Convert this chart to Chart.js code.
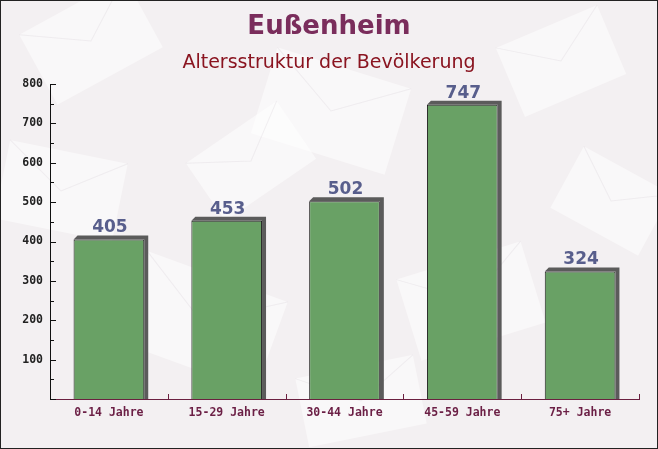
<!DOCTYPE html>
<html>
<head>
    <title>Eußenheim - Altersstruktur</title>
    <style>
        html, body {
            margin: 0;
            padding: 0;
            background: #f4f1f3;
        }
        #wrap {
            width: 656px;
            height: 447px;
            border: 1px solid #222;
        }
        #myChart {
            display: block;
        }
    </style>
    <script src="https://cdn.jsdelivr.net/npm/chart.js"></script>
</head>
<body>
<div id="wrap"><canvas id="myChart" width="656" height="447"></canvas></div>
<script>
    // Altersgruppen und Einwohnerzahlen
    const categories = ['0-14 Jahre', '15-29 Jahre', '30-44 Jahre', '45-59 Jahre', '75+ Jahre'];
    const values = [405, 453, 502, 747, 324];
    const yTicks = [0, 100, 200, 300, 400, 500, 600, 700, 800];

    // Hintergrund mit blassen "Briefumschlägen"
    const bgPlugin = {
        id: 'bg',
        beforeDraw(chart) {
            const c = chart.ctx;
            c.save();
            c.fillStyle = '#f3f0f2';
            c.fillRect(0, 0, chart.width, chart.height);
            const env = [
                [90, 40, 120, 80, -0.5], [330, 110, 140, 90, 0.3], [560, 60, 110, 75, -0.4],
                [200, 320, 150, 95, 0.35], [470, 300, 130, 85, -0.3], [60, 190, 120, 80, 0.2],
                [610, 200, 100, 70, 0.5], [360, 400, 120, 70, -0.2], [250, 160, 110, 70, -0.6]
            ];
            env.forEach(e => {
                c.save();
                c.translate(e[0], e[1]);
                c.rotate(e[4]);
                c.fillStyle = 'rgba(255,255,255,0.5)';
                c.fillRect(-e[2] / 2, -e[3] / 2, e[2], e[3]);
                c.strokeStyle = 'rgba(200,190,200,0.2)';
                c.beginPath();
                c.moveTo(-e[2] / 2, -e[3] / 2);
                c.lineTo(0, 0);
                c.lineTo(e[2] / 2, -e[3] / 2);
                c.stroke();
                c.restore();
            });
            c.restore();
        }
    };

    // 3D-Schatten hinter den Balken und Werte darüber
    const shadowPlugin = {
        id: 'shadow3d',
        beforeDatasetsDraw(chart) {
            const c = chart.ctx;
            const d = 4;
            const base = chart.scales.y.getPixelForValue(0);
            c.save();
            c.fillStyle = '#5b5b5b';
            chart.getDatasetMeta(0).data.forEach(bar => {
                const l = bar.x - bar.width / 2, r = bar.x + bar.width / 2, t = bar.y;
                c.beginPath();
                c.moveTo(l, t);
                c.lineTo(l + d, t - d);
                c.lineTo(r + d, t - d);
                c.lineTo(r + d, base);
                c.lineTo(r, base);
                c.lineTo(r, t);
                c.closePath();
                c.fill();
            });
            c.restore();
        },
        afterDatasetsDraw(chart) {
            const c = chart.ctx;
            c.save();
            c.font = 'bold 17px "DejaVu Sans"';
            c.fillStyle = '#585e8c';
            c.textAlign = 'center';
            c.textBaseline = 'bottom';
            chart.getDatasetMeta(0).data.forEach((bar, i) => {
                c.fillText(values[i], bar.x + 1, bar.y - 3);
            });
            c.restore();
        }
    };

    const ctx = document.getElementById('myChart').getContext('2d');
    new Chart(ctx, {
        type: 'bar',
        data: {
            labels: categories,
            datasets: [{
                data: values,
                backgroundColor: '#69a165',
                borderColor: '#222',
                borderWidth: 1,
                borderSkipped: 'bottom',
                categoryPercentage: 0.6,
                barPercentage: 1.0
            }]
        },
        options: {
            responsive: false,
            animation: false,
            devicePixelRatio: 1,
            layout: { padding: 0 },
            scales: {
                y: {
                    min: 0,
                    max: 800,
                    afterBuildTicks(scale) {
                        scale.ticks = yTicks.map(v => ({ value: v }));
                    },
                    afterFit(scale) { scale.width = 49; },
                    border: { display: true, color: '#111', width: 1 },
                    grid: { display: false, drawTicks: false },
                    ticks: {
                        color: '#222',
                        padding: 7,
                        font: { family: '"DejaVu Sans Mono"', size: 11.5, weight: 'bold' },
                        callback: v => v === 0 ? '' : v
                    }
                },
                // leerer Rand rechts, damit der Titel über die volle Breite zentriert bleibt
                yRight: {
                    position: 'right',
                    display: true,
                    min: 0,
                    max: 800,
                    afterFit(scale) { scale.width = 18; },
                    border: { display: false },
                    grid: { display: false },
                    ticks: { display: false }
                },
                x: {
                    afterFit(scale) { scale.height = 49; },
                    border: { display: true, color: '#6b2040', width: 1 },
                    grid: { display: false },
                    ticks: {
                        color: '#6b1f45',
                        padding: -1,
                        font: { family: '"DejaVu Sans Mono"', size: 11.5, weight: 'bold' }
                    }
                }
            },
            plugins: {
                legend: { display: false },
                tooltip: { enabled: false },
                title: {
                    display: true,
                    text: 'Eußenheim',
                    color: '#7a2d5c',
                    font: { family: '"DejaVu Sans"', size: 26, weight: 'bold' },
                    padding: { top: 11, bottom: 4 }
                },
                subtitle: {
                    display: true,
                    text: 'Altersstruktur der Bevölkerung',
                    color: '#8a1420',
                    font: { family: '"DejaVu Sans"', size: 19 },
                    padding: { top: 4, bottom: 10 }
                }
            }
        },
        plugins: [bgPlugin, shadowPlugin, {
            // kurze Markierungen nach innen an beiden Achsen
            id: 'innerTicks',
            afterDraw(chart) {
                const c = chart.ctx;
                const y = chart.scales.y;
                const area = chart.chartArea;
                c.save();
                c.lineWidth = 1;
                c.strokeStyle = '#111';
                for (let v = 0; v <= 800; v += 50) {
                    const py = Math.round(y.getPixelForValue(v)) + 0.5;
                    c.beginPath();
                    c.moveTo(area.left, py);
                    c.lineTo(area.left + (v % 100 === 0 ? 6 : 4), py);
                    c.stroke();
                }
                c.strokeStyle = '#6b2040';
                for (let i = 1; i <= categories.length; i++) {
                    const px = Math.round(area.left + (area.right - area.left) * i / categories.length) + 0.5;
                    c.beginPath();
                    c.moveTo(px, area.bottom);
                    c.lineTo(px, area.bottom - 5);
                    c.stroke();
                }
                c.restore();
            }
        }]
    });
</script>
</body>
</html>
